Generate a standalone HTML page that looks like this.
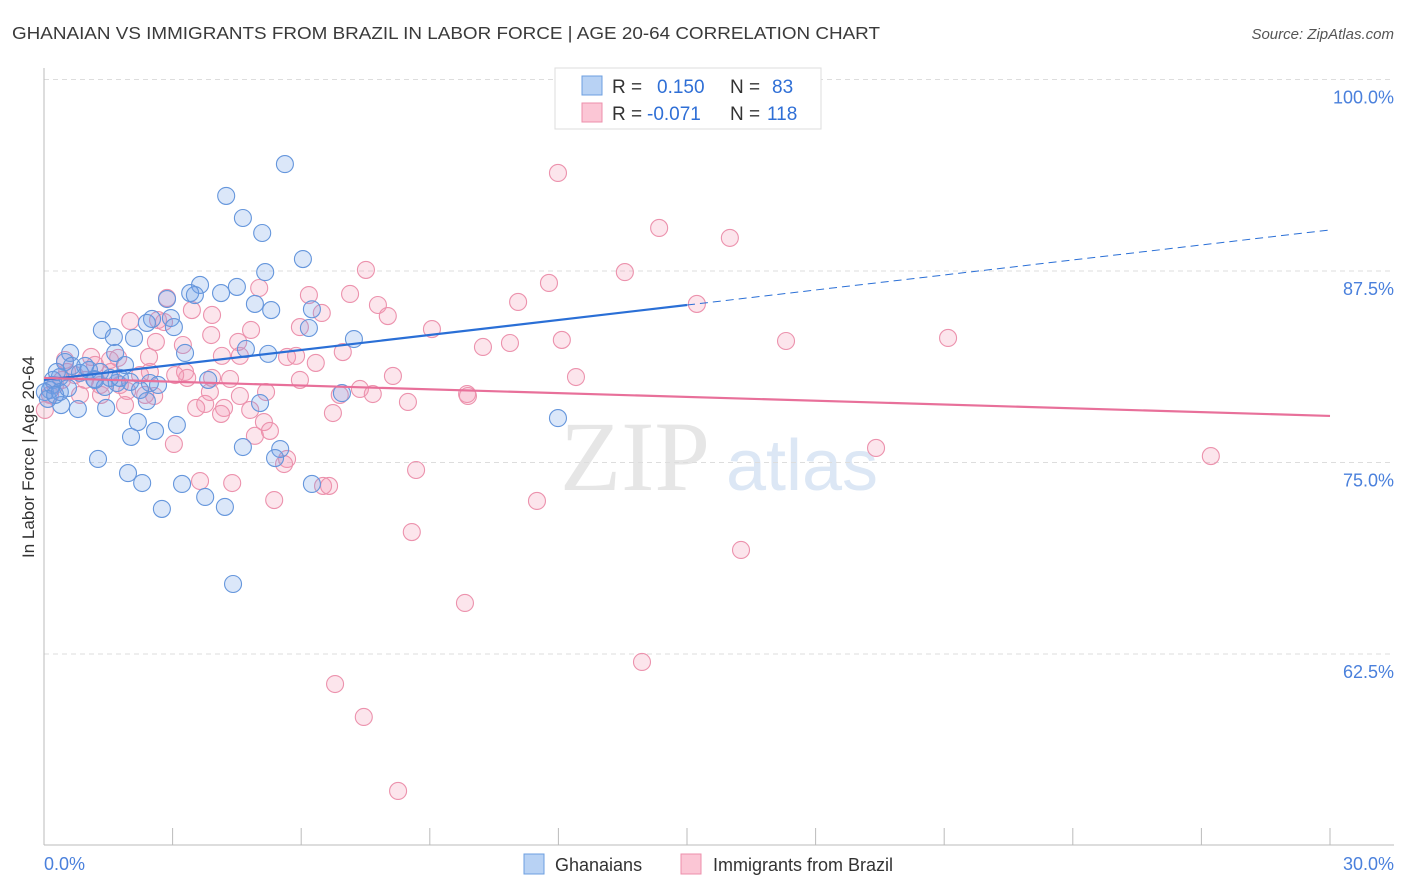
<!DOCTYPE html>
<html><head><meta charset="utf-8"><style>
body{margin:0;background:#fff;font-family:"Liberation Sans",sans-serif;}
#wrap{position:relative;width:1406px;height:892px;overflow:hidden;}
</style></head><body>
<div id="wrap">
<svg id="svg" width="1406" height="892" xmlns="http://www.w3.org/2000/svg" font-family="Liberation Sans, sans-serif">
<text x="12" y="39" font-size="17.5" fill="#3a3a3a" textLength="868" lengthAdjust="spacingAndGlyphs">GHANAIAN VS IMMIGRANTS FROM BRAZIL IN LABOR FORCE | AGE 20-64 CORRELATION CHART</text>
<text x="1394" y="39" font-size="15" fill="#555" font-style="italic" text-anchor="end">Source: ZipAtlas.com</text>
<g>
<text x="635" y="490" font-size="100" font-family="Liberation Serif, serif" fill="#e6e6e6" text-anchor="middle">ZIP</text>
<text x="802" y="490" font-size="72" fill="#dce7f5" text-anchor="middle">atlas</text>
</g>
<g id="grid"></g>
<g id="axes"></g>
<g id="pts"></g>
<g id="trend"></g>
<g>
<rect x="555" y="68" width="266" height="61" fill="#fff" stroke="#ddd"/>
<rect x="582" y="76" width="20" height="19" fill="#b8d2f4" stroke="#6c9fe0"/>
<rect x="582" y="103" width="20" height="19" fill="#fbc6d5" stroke="#ec8fab"/>
<text x="612" y="93" font-size="19" fill="#333">R =</text>
<text x="657" y="93" font-size="19" fill="#2f6fd6">0.150</text>
<text x="730" y="93" font-size="19" fill="#333">N =</text>
<text x="772" y="93" font-size="19" fill="#2f6fd6">83</text>
<text x="612" y="120" font-size="19" fill="#333">R =</text>
<text x="647" y="120" font-size="19" fill="#2f6fd6">-0.071</text>
<text x="730" y="120" font-size="19" fill="#333">N =</text>
<text x="767" y="120" font-size="19" fill="#2f6fd6">118</text>
</g>
<g>
<rect x="524" y="854" width="20" height="20" fill="#b8d2f4" stroke="#6c9fe0"/>
<text x="555" y="871" font-size="18" fill="#333">Ghanaians</text>
<rect x="681" y="854" width="20" height="20" fill="#fbc6d5" stroke="#ec8fab"/>
<text x="713" y="871" font-size="18" fill="#333">Immigrants from Brazil</text>
</g>
<text x="0" y="0" font-size="17" fill="#333" transform="translate(34,457) rotate(-90)" text-anchor="middle">In Labor Force | Age 20-64</text>
</svg>
</div>
<script>
const yTicks=[100,87.5,75,62.5];
const yTickLabels=["100.0%","87.5%","75.0%","62.5%"];
const xTickLabels=["0.0%","30.0%"];
const blueX=[5.62,4.25,4.64,5.09,6.04,5.16,4.50,3.64,3.41,3.52,4.13,2.87,4.92,5.30,6.25,2.52,2.96,2.40,3.03,1.35,6.18,1.63,2.10,7.23,0.61,0.49,1.66,3.29,4.71,5.23,1.89,1.05,0.84,0.37,1.17,1.70,1.42,0.21,0.14,2.47,2.66,3.83,0.40,0.79,1.45,2.40,5.04,6.95,11.99,2.19,3.10,2.59,2.03,4.64,5.51,5.39,1.26,1.96,2.29,3.22,6.25,3.76,2.75,4.22,4.41,0.19,0.30,0.02,0.09,1.19,1.77,1.31,0.96,0.65,1.54,2.01,0.37,0.26,2.24,0.56];
const blueY=[94.48,92.4,90.96,89.98,88.28,87.43,86.46,86.59,86.06,85.93,86.06,85.67,85.35,84.95,85.0,84.37,84.43,84.11,83.84,83.65,83.78,83.19,83.13,83.06,82.15,81.56,82.15,82.15,82.41,82.09,81.36,81.04,80.85,80.58,80.45,80.19,79.93,80.39,79.73,80.19,80.06,80.39,78.75,78.49,78.56,79.01,78.88,79.53,77.9,77.64,77.45,77.06,76.67,76.01,75.88,75.29,75.23,74.31,73.66,73.6,73.6,72.75,71.97,72.1,67.07,80.06,80.91,79.6,79.15,80.39,80.52,80.91,81.3,81.3,80.52,80.26,79.6,79.41,79.73,79.86];
const pinkX=[11.99,14.35,16.0,7.51,13.55,11.78,5.02,6.18,7.14,11.06,7.79,15.23,6.48,2.87,3.45,2.01,2.66,2.80,3.92,8.02,9.05,5.97,4.83,3.90,4.53,3.24,2.61,12.08,10.87,10.24,17.31,21.09,6.97,5.67,5.88,6.34,2.45,1.10,1.73,4.15,4.57,3.29,2.47,1.56,0.54,8.14,12.41,3.34,3.92,4.34,7.37,7.67,5.18,4.57,1.94,1.33,2.57,3.76,3.55,4.20,8.49,6.74,4.13,9.87,9.89,5.13,5.27,4.92,3.03,19.41,27.22,5.67,5.60,8.68,3.64,4.39,6.51,6.65,5.37,11.50,8.58,16.26,9.82,13.95,6.79,7.46,8.26,0.02,0.14,0.26,0.42,0.72,0.96,1.31,1.77,2.24,0.49,1.54,3.06,2.36,1.89,3.87,5.97,6.90,4.81,1.19,0.84];
const pinkY=[93.9,90.31,89.66,87.57,87.43,86.72,86.39,85.93,86.0,85.48,85.28,85.35,84.76,85.74,84.95,84.24,84.3,84.17,84.63,84.56,83.71,83.84,83.65,83.32,82.87,82.67,82.87,83.0,82.8,82.54,82.93,83.13,82.21,81.89,81.96,81.5,81.89,81.89,81.83,81.96,81.96,80.91,80.91,80.91,80.91,80.65,80.58,80.52,80.52,80.45,79.8,79.47,79.6,79.34,79.67,79.41,79.34,78.82,78.56,78.56,78.95,78.23,78.17,79.47,79.34,77.64,77.06,76.74,76.21,75.95,75.42,75.23,74.9,74.51,73.79,73.66,73.47,73.47,72.55,72.49,70.46,69.29,65.83,61.98,60.54,58.39,53.56,78.43,79.41,80.06,80.39,80.71,80.39,80.06,80.06,80.71,81.69,81.69,80.71,79.41,78.75,79.6,80.39,79.41,78.43,81.37,79.41];
const blueTrend=[80.39,85.28,90.18];
const blueTrendX=[0,15,30];
const pinkTrend=[80.52,78.04];
const pinkTrendX=[0,30];

const NS="http://www.w3.org/2000/svg";
const X0=44,X1=1330,Y100=79.5,PX_PER=15.32;
function sx(v){return X0+(v/30)*(X1-X0);}
function sy(v){return Y100+(100-v)*PX_PER;}
function mk(tag,attrs,parent){const e=document.createElementNS(NS,tag);for(const k in attrs)e.setAttribute(k,attrs[k]);document.getElementById(parent).appendChild(e);return e;}

yTicks.forEach((t,i)=>{
  const l=mk('line',{x1:44,x2:1394,y1:sy(t),y2:sy(t),stroke:'#ddd','stroke-dasharray':'5,4'},'grid');
  
  
  const tx=mk('text',{x:1394,y:sy(t)+24,'font-size':18,fill:'#4a80dc','text-anchor':'end'},'grid');
  tx.textContent=yTickLabels[i];
  
  
});
const ax=mk('line',{x1:44,x2:44,y1:68,y2:845,stroke:'#bbb'},'axes');


const bx=mk('line',{x1:44,x2:1394,y1:845,y2:845,stroke:'#bbb'},'axes');


for(let i=0;i<=10;i++){
  const t=mk('line',{x1:sx(i*3),x2:sx(i*3),y1:828,y2:845,stroke:'#bbb'},'axes');
  
  
}
[[0,'start',44],[30,'end',1394]].forEach((a,i)=>{
  const t=mk('text',{x:a[2],y:870,'font-size':18,fill:'#4a80dc','text-anchor':a[1]},'axes');
  t.textContent=xTickLabels[i];
  
  
});
pinkX.forEach((v,i)=>{
  const c=mk('circle',{cx:sx(v),cy:sy(pinkY[i]),r:8.5,fill:'rgba(244,150,178,0.25)',stroke:'#ec92ad','stroke-width':1.1},'pts');
  
  
});
blueX.forEach((v,i)=>{
  const c=mk('circle',{cx:sx(v),cy:sy(blueY[i]),r:8.5,fill:'rgba(110,160,230,0.25)',stroke:'#6596dc','stroke-width':1.1},'pts');
  
  
});
const b1=mk('line',{x1:sx(blueTrendX[0]),y1:sy(blueTrend[0]),x2:sx(blueTrendX[1]),y2:sy(blueTrend[1]),stroke:'#2a6fd6','stroke-width':2.2},'trend');


const b2=mk('line',{x1:sx(blueTrendX[1]),y1:sy(blueTrend[1]),x2:sx(blueTrendX[2]),y2:sy(blueTrend[2]),stroke:'#2a6fd6','stroke-width':1,'stroke-dasharray':'8,5'},'trend');


const p1=mk('line',{x1:sx(pinkTrendX[0]),y1:sy(pinkTrend[0]),x2:sx(pinkTrendX[1]),y2:sy(pinkTrend[1]),stroke:'#e8709a','stroke-width':2.2},'trend');


</script>
</body></html>
